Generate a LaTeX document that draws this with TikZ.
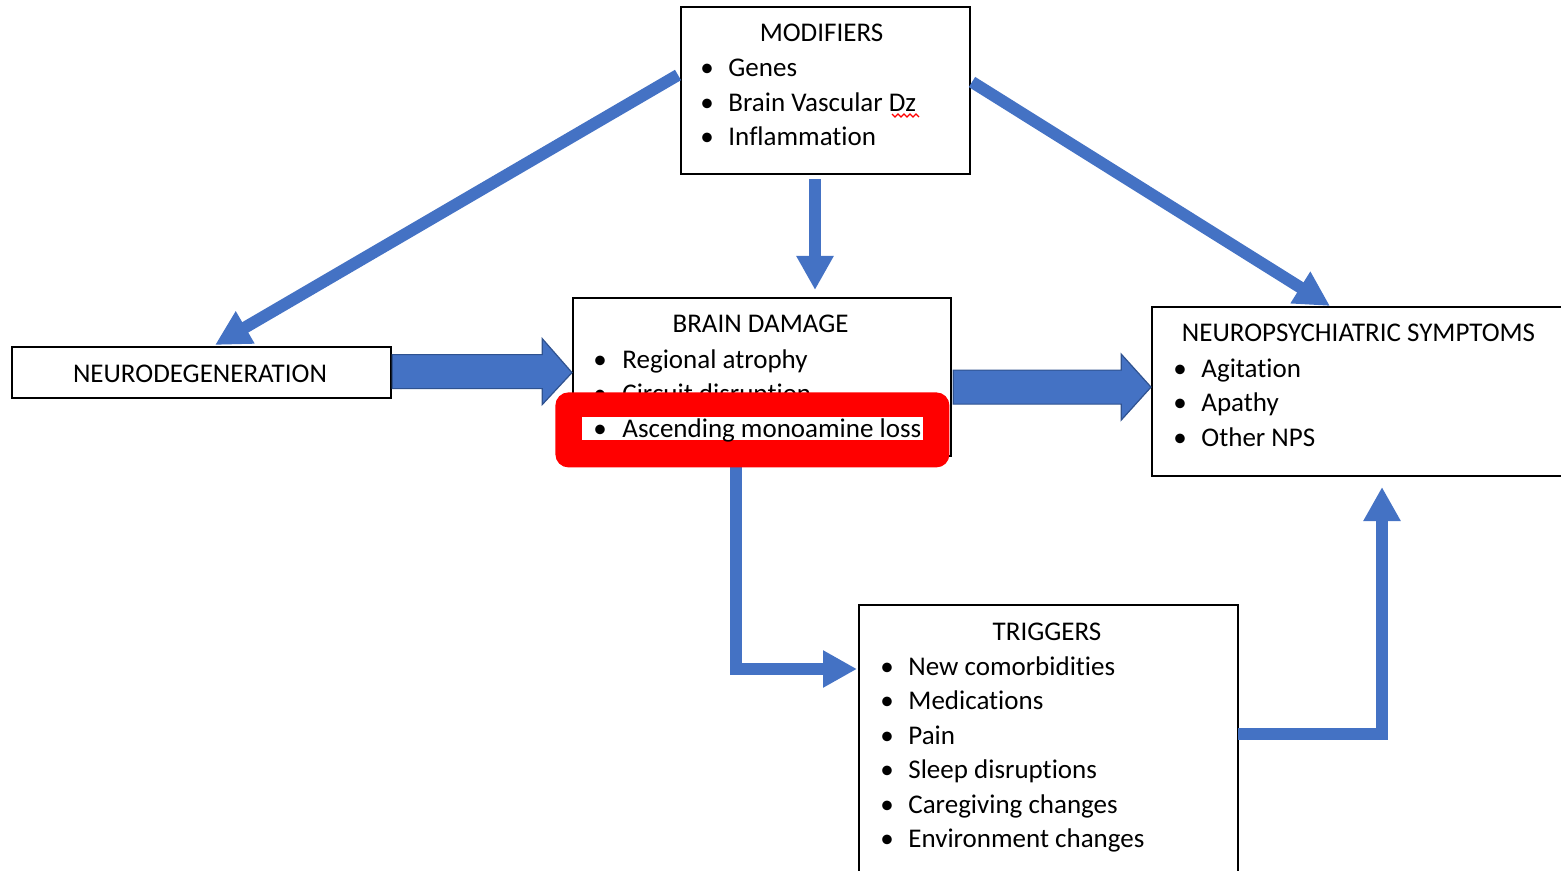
\documentclass[tikz,border=0pt]{standalone}
\usepackage{fontspec}
\setmainfont{Carlito}[Ligatures=NoCommon]
\usetikzlibrary{arrows.meta,calc}
\definecolor{arrblue}{HTML}{4472C4}
\definecolor{arredge}{HTML}{2F528F}
\newcommand\bitem[5]{%
  \node[txt,anchor=base] (#1b) at (#2,#4) {•};
  \node[txt,anchor=base west] (#1) at (#3,#4) {#5};}
\begin{document}
\begin{tikzpicture}[x=0.5pt,y=-0.5pt,
  box/.style={draw=black,line width=1.1pt,fill=white,inner sep=0pt,anchor=north west},
  txt/.style={inner sep=0pt,font=\fontsize{13.5}{16}\selectfont},
  thinarrow/.style={draw=arrblue,line width=6pt,line join=miter,
    -{Triangle[width=17.5pt,length=17pt]}},
  diagarrow/.style={draw=arrblue,line width=6pt,
    -{Triangle[width=17.5pt,length=17.5pt]}},
  blockarrow/.style={fill=arrblue,draw=arredge,line width=0.6pt,line join=miter}]
\useasboundingbox (0,0) rectangle (1561,871);

% boxes
\node[box,minimum width=144.5pt,minimum height=83.5pt] (mod) at (680,6) {};
\node[box,minimum width=189.5pt,minimum height=25.5pt] (neuro) at (11,346) {};
\node[box,minimum width=189pt,minimum height=79pt] (brain) at (572,297) {};
\node[box,minimum width=219.5pt,minimum height=84.5pt] (nps) at (1151,306) {};
\node[box,minimum width=189.5pt,minimum height=143pt] (trig) at (858,604) {};

% MODIFIERS
\node[txt,anchor=base] (modt) at (821.5,42) {MODIFIERS};
\bitem{m1}{707}{728}{77}{Genes}
\bitem{m2}{707}{728}{111.5}{Brain Vascular Dz}
\bitem{m3}{707}{728}{146}{Inflammation}
\draw[red,line width=0.6pt] (892,114)--(895,117)--(898,114)--(901,117)--(904,114)--(907,117)--(910,114)--(913,117)--(916,114)--(919,117);

% NEURODEGENERATION
\node[txt,anchor=base] (neurot) at (200,382) {NEURODEGENERATION};

% BRAIN DAMAGE
\node[txt,anchor=base] (braint) at (760.5,333) {BRAIN DAMAGE};
\bitem{b1}{600}{622}{368}{Regional atrophy}
\bitem{b2}{600}{622}{402.5}{Circuit disruption}

% NPS
\node[txt,anchor=base] (npst) at (1358.5,342) {NEUROPSYCHIATRIC SYMPTOMS};
\bitem{n1}{1180}{1201}{377}{Agitation}
\bitem{n2}{1180}{1201}{411.5}{Apathy}
\bitem{n3}{1180}{1201}{446}{Other NPS}

% TRIGGERS
\node[txt,anchor=base] (trigt) at (1047,640) {TRIGGERS};
\bitem{t1}{887}{908}{675}{New comorbidities}
\bitem{t2}{887}{908}{709.5}{Medications}
\bitem{t3}{887}{908}{744}{Pain}
\bitem{t4}{887}{908}{778.5}{Sleep disruptions}
\bitem{t5}{887}{908}{813}{Caregiving changes}
\bitem{t6}{887}{908}{847.5}{Environment changes}

% coordinates for connectors
\coordinate (mL) at (678,75);
\coordinate (mR) at (972,82);
\coordinate (mB) at (815,179);
\coordinate (nTop) at (215,345);
\coordinate (pTop) at (1330,306);
\coordinate (bTop) at (815,290);
\coordinate (dStart) at (736,460);
\coordinate (tIn) at (857,669);
\coordinate (tOut) at (1238,734);
\coordinate (tCorner) at (1382,734);
\coordinate (pBot) at (1382,487);

% thin arrows
\draw[diagarrow] (mL) -- (nTop);
\draw[diagarrow] (mR) -- (pTop);
\draw[thinarrow] (mB) -- (bTop);
\draw[thinarrow] (dStart) |- (tIn);
\draw[thinarrow] (tOut) -- (tCorner) -- (pBot);

% block arrows
\draw[blockarrow] ($(neuro.east)+(0,-18)$) -- ($(neuro.east)+(150,-18)$) -- ($(neuro.east)+(150,-34)$)
  -- ($(brain.west|-neuro.east)$) -- ($(neuro.east)+(150,32)$) -- ($(neuro.east)+(150,16)$)
  -- ($(neuro.east)+(0,16)$) -- cycle;
\coordinate (bn) at ($(brain.east)+(1,10)$);
\draw[blockarrow] ($(bn)+(0,-17)$) -- ($(bn)+(168,-17)$) -- ($(bn)+(168,-33)$)
  -- ($(nps.west|-bn)$) -- ($(bn)+(168,33)$) -- ($(bn)+(168,17)$)
  -- ($(bn)+(0,17)$) -- cycle;

% red highlight
\node[fill=red,rounded corners=6.5pt,inner sep=0pt,anchor=north west,
  minimum width=197pt,minimum height=37.5pt] (redbox) at (555,392) {};
\node[fill=white,inner sep=0pt,anchor=north west,
  minimum width=170.5pt,minimum height=11.5pt] (whitebar) at (582,417) {};
\bitem{b3}{600}{622}{437}{Ascending monoamine loss}
\end{tikzpicture}
\end{document}
